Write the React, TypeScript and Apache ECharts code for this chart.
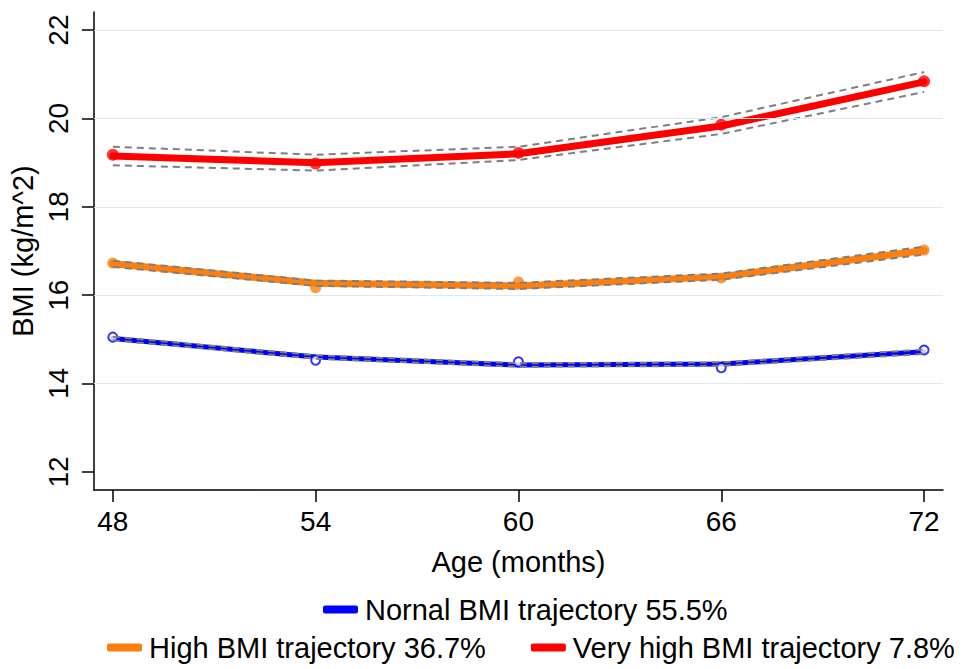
import React, { useEffect, useRef } from "react";
import * as echarts from "echarts";

const ages = [48, 54, 60, 66, 72];
const yTickValues = [12, 14, 16, 18, 20, 22];
const gridValues = [14, 16, 18, 20, 22];

const normalName = "Nornal BMI trajectory 55.5%";
const highName = "High BMI trajectory 36.7%";
const veryHighName = "Very high BMI trajectory 7.8%";

const normalObserved = [15.05, 14.53, 14.49, 14.36, 14.76];
const normalPred = [15.02, 14.6, 14.42, 14.44, 14.72];
const normalUpper = [15.06, 14.64, 14.46, 14.48, 14.77];
const normalLower = [14.98, 14.56, 14.38, 14.4, 14.67];

const highObserved = [16.73, 16.17, 16.3, 16.39, 17.02];
const highPred = [16.71, 16.27, 16.21, 16.42, 17.01];
const highUpper = [16.78, 16.33, 16.28, 16.49, 17.1];
const highLower = [16.64, 16.21, 16.14, 16.35, 16.92];

const veryHighObserved = [19.18, 18.98, 19.22, 19.86, 20.84];
const veryHighPred = [19.15, 19.0, 19.2, 19.83, 20.83];
const veryHighUpper = [19.36, 19.18, 19.36, 20.03, 21.05];
const veryHighLower = [18.94, 18.82, 19.06, 19.65, 20.6];

const FONT = "'Liberation Sans', Arial, sans-serif";

const pair = (vals: number[]) => ages.map((a, i) => [a, vals[i]]);

function ciSeries(name: string, vals: number[]) {
  return {
    name,
    type: "line",
    data: pair(vals),
    symbol: "none",
    z: 4,
    silent: true,
    lineStyle: { color: "#7f7f7f", width: 2, type: [7, 5] },
  };
}

function predSeries(name: string, vals: number[], color: string, width: number, extra: any = {}) {
  return {
    name,
    type: "line",
    data: pair(vals),
    symbol: "none",
    z: 3,
    silent: true,
    itemStyle: { color },
    lineStyle: { color, width, cap: "round", join: "round" },
    ...extra,
  };
}

function obsSeries(name: string, vals: number[], color: string, symbol: string, size: number) {
  return {
    name,
    type: "scatter",
    data: pair(vals),
    symbol,
    symbolSize: size,
    z: 3,
    silent: true,
    itemStyle: symbol === "emptyCircle" ? { color, borderColor: color, borderWidth: 3 } : { color },
  };
}

export default function App() {
  const ref = useRef<HTMLDivElement>(null);
  useEffect(() => {
    if (!ref.current) return;
    const chart = echarts.init(ref.current, null, { renderer: "svg" });
    chart.setOption({
      animation: false,
      backgroundColor: "#ffffff",
      textStyle: { fontFamily: FONT, color: "#000" },
      grid: { left: 89, right: 21, top: 12, bottom: 179, containLabel: false },
      xAxis: {
        type: "value",
        min: 47.44,
        max: 72.56,
        name: "Age (months)",
        nameLocation: "middle",
        nameGap: 57,
        nameTextStyle: { fontSize: 29, color: "#000", fontFamily: FONT },
        axisLine: { show: true, onZero: false, lineStyle: { color: "#000", width: 1.5 } },
        axisTick: { show: true, length: 12, customValues: ages, lineStyle: { color: "#000", width: 1.5 } },
        axisLabel: { customValues: ages, fontSize: 28, color: "#000", margin: 17, fontFamily: FONT },
        splitLine: { show: false },
      },
      yAxis: {
        type: "value",
        min: 11.59,
        max: 22.41,
        name: "BMI (kg/m^2)",
        nameLocation: "middle",
        nameGap: 50,
        nameRotate: 90,
        nameTextStyle: { fontSize: 29, color: "#000", fontFamily: FONT },
        axisLine: { show: true, onZero: false, lineStyle: { color: "#000", width: 1.5 } },
        axisTick: { show: true, length: 12, customValues: yTickValues, lineStyle: { color: "#000", width: 1.5 } },
        axisLabel: { customValues: yTickValues, rotate: 90, fontSize: 28, color: "#000", margin: 21, fontFamily: FONT },
        splitLine: { show: false },
      },
      legend: [
        {
          data: [{ name: normalName, icon: "roundRect" }],
          left: 323,
          top: 595,
          padding: 0,
          itemWidth: 35,
          itemHeight: 8,
          itemGap: 53,
          textStyle: { fontSize: 29, color: "#000", fontFamily: FONT, padding: [0, 0, 0, 2] },
          selectedMode: false,
        },
        {
          data: [
            { name: highName, icon: "roundRect" },
            { name: veryHighName, icon: "roundRect" },
          ],
          left: 107,
          top: 633,
          padding: 0,
          itemWidth: 35,
          itemHeight: 8,
          itemGap: 45,
          textStyle: { fontSize: 29, color: "#000", fontFamily: FONT, padding: [0, 0, 0, 2] },
          selectedMode: false,
        },
      ],
      series: [
        predSeries(normalName, normalPred, "#0000ff", 5, {
          z: 2,
          markLine: {
            silent: true,
            symbol: ["none", "none"],
            label: { show: false },
            lineStyle: { color: "#dfe8ef", width: 1, type: "solid" },
            data: gridValues.map((v) => ({ yAxis: v })),
          },
        }),
        obsSeries("Normal observed", normalObserved, "#0000ff", "emptyCircle", 9),
        ciSeries("Normal upper", normalUpper),
        ciSeries("Normal lower", normalLower),
        predSeries(highName, highPred, "#ff7f0e", 7),
        obsSeries("High observed", highObserved, "#ff7f0e", "circle", 11),
        ciSeries("High upper", highUpper),
        ciSeries("High lower", highLower),
        predSeries(veryHighName, veryHighPred, "#ff0000", 7),
        obsSeries("Very high observed", veryHighObserved, "#ff0000", "circle", 12),
        ciSeries("Very high upper", veryHighUpper),
        ciSeries("Very high lower", veryHighLower),
      ],
    });
    return () => chart.dispose();
  }, []);
  return <div ref={ref} style={{ width: 964, height: 669, position: "absolute", left: 0, top: 0 }} />;
}
